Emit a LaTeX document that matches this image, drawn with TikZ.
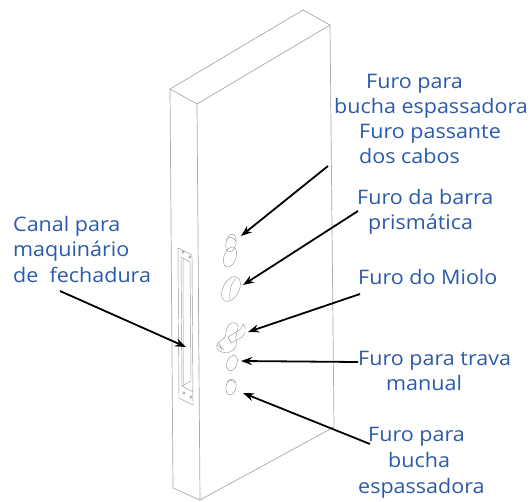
\documentclass[tikz,border=0pt]{standalone}
\usepackage{fontspec}
\setmainfont[FakeStretch=1.075]{Open Sans}
\usetikzlibrary{arrows.meta}
\definecolor{labelblue}{HTML}{2B5AA8}
\definecolor{doorgray}{HTML}{A8A8A8}

\begin{document}
\begin{tikzpicture}[x=1pt, y=-1pt]
    \tikzset{
        doorline/.style={draw=doorgray, line width=0.7pt, line join=round},
        holeline/.style={draw=doorgray!90!black, line width=0.45pt},
        callout/.style={draw=black, line width=1.8pt, -{Stealth[length=11pt, width=8pt]}},
        lbl/.style={anchor=base west, inner sep=0pt, text=labelblue, font=\fontsize{20}{22}\selectfont}
    }
    \useasboundingbox (0,0) rectangle (532,501);

    % porta
    \coordinate (tl) at (170,89);
    \coordinate (tb) at (303,10);
    \coordinate (tr) at (330,25);
    \coordinate (tf) at (197,104);
    \coordinate (bl) at (173,488);
    \coordinate (bf) at (200,500);
    \coordinate (br) at (334,427);
    \draw[doorline] (tl) -- (tb) -- (tr) -- (tf) -- cycle;
    \draw[doorline] (tl) -- (bl) -- (bf) -- (tf);
    \draw[doorline] (tr) -- (br) -- (bf);

    % canal
    \draw[holeline] (178,248) -- (192,255) -- (193,405) -- (179,398) -- cycle;
    \draw[holeline] (181,257) -- (190,262) -- (191,381) -- (182,386) -- cycle;
    \draw[holeline] (182,386) -- (193,392);
    \draw[draw=doorgray!50, line width=1pt] (183,259) -- (183.5,385);
    \foreach \px/\py in {183/252, 190/257, 184/393, 191/397}
        \draw[holeline] (\px,\py) circle (1.2);

    % furos
    \draw[holeline] (231,243) ellipse [x radius=5, y radius=9, rotate=-12];
    \draw[holeline] (226,240) .. controls (229,236) and (233,237) .. (236,241);
    \draw[holeline] (230,257) ellipse [x radius=6, y radius=10.5, rotate=-20];
    \draw[holeline] (231,289) ellipse [x radius=8, y radius=13.5, rotate=-28];
    \draw[holeline] (236,278) .. controls (231,283) and (229,291) .. (230,300);
    \draw[holeline] (232,363) ellipse [x radius=5, y radius=8, rotate=-20];
    \draw[holeline] (231,387) ellipse [x radius=5, y radius=8, rotate=-12];
    \draw[holeline] (227,382) .. controls (229,379) and (233,380) .. (235,383);

    % miolo
    \draw[holeline] (226,332) .. controls (227,327) and (229,323) .. (232,323)
        .. controls (235,322) and (239,324) .. (238,328)
        .. controls (238,332) and (235,335) .. (236,339)
        .. controls (237,344) and (236,348) .. (233,350)
        .. controls (230,353) and (226,353) .. (222,352)
        .. controls (218,351) and (216,348) .. (217,345)
        .. controls (218,341) and (223,340) .. (225,337)
        .. controls (226,336) and (226,334) .. (226,332) -- cycle;
    \draw[holeline] (228,337) -- (241,329) -- (243,324) -- (245,327) -- (245,333) -- (242,337) -- (231,343) -- cycle;
    \draw[holeline] (217,345) -- (224,350);
    \draw[holeline] (219,343) -- (222,349);

    % legendas
    \node[lbl] (passa1) at (366,88) {Furo para};
    \node[lbl] (passa2) at (334,113) {bucha espassadora};
    \node[lbl] (passa3) at (359,138) {Furo passante};
    \node[lbl] (passa4) at (359,163) {dos cabos};
    \node[lbl] (barra1) at (357,204) {Furo da barra};
    \node[lbl] (barra2) at (368,229) {prismática};
    \node[lbl] (miolo) at (358,284) {Furo do Miolo};
    \node[lbl] (trava1) at (358,365) {Furo para trava};
    \node[lbl] (trava2) at (386,390) {manual};
    \node[lbl] (bucha1) at (368,441) {Furo para};
    \node[lbl] (bucha2) at (388,467) {bucha};
    \node[lbl] (bucha3) at (358,493) {espassadora};
    \node[lbl] (canal1) at (13,231) {Canal para};
    \node[lbl] (canal2) at (13,256) {maquinário};
    \node[lbl] (canal3) at (13,282) {de\ \ fechadura};

    % setas
    \coordinate (s1) at (328,166);
    \coordinate (e1) at (241,236);
    \coordinate (s2) at (358,211);
    \coordinate (e2) at (243,285);
    \coordinate (s3) at (360,294);
    \coordinate (e3) at (248,332);
    \coordinate (s4) at (358,362);
    \coordinate (e4) at (241,361);
    \coordinate (s5) at (370,444);
    \coordinate (e5) at (243,393);
    \coordinate (s6) at (60,291);
    \coordinate (e6) at (186,347);
    \foreach \i in {1,...,6}
        \draw[callout] (s\i) -- (e\i);
\end{tikzpicture}
\end{document}
